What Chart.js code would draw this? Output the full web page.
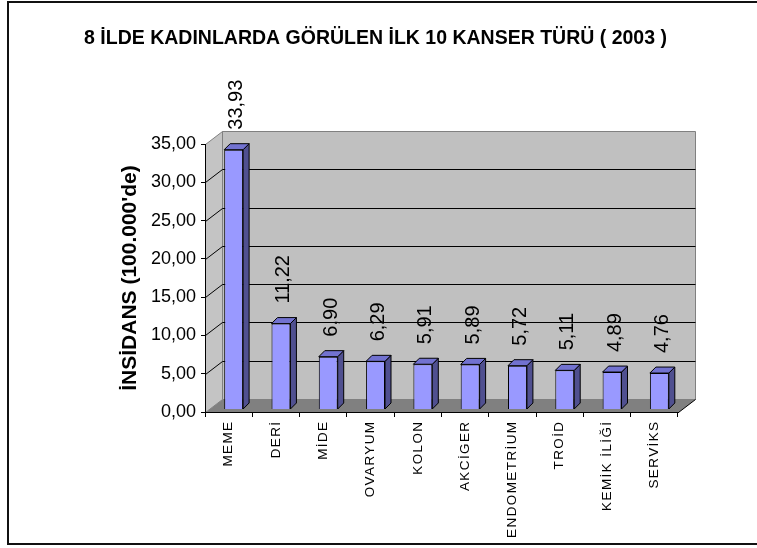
<!DOCTYPE html>
<html>
<head>
<meta charset="utf-8">
<title>8 ilde kadınlarda kanser</title>
<script src="https://cdn.jsdelivr.net/npm/chart.js@4.4.1/dist/chart.umd.min.js"></script>
<style>
  html, body { margin: 0; padding: 0; background: #fff; }
  canvas { display: block; }
</style>
</head>
<body>
<canvas id="cancerChart" width="757" height="548"></canvas>
<script>
var categories = ['MEME', 'DERİ', 'MİDE', 'OVARYUM', 'KOLON', 'AKCİGER', 'ENDOMETRİUM', 'TROİD', 'KEMİK İLİĞİ', 'SERVİKS'];
var incidence = [33.93, 11.22, 6.90, 6.29, 5.91, 5.89, 5.72, 5.11, 4.89, 4.76];
var yMin = 0;
var yMax = 35;
var yStep = 5;
var chartTitle = '8 İLDE KADINLARDA GÖRÜLEN İLK 10 KANSER TÜRÜ ( 2003 )';
var yTitle = "İNSİDANS (100.000'de)";

(function () {
  'use strict';

  var FONT = "'Liberation Sans', Arial, sans-serif";
  var WALL_DX = 17, WALL_DY = -13;  // depth of the 3d box
  var BAR_DX = 5, BAR_DY = -2.5;    // bars stand a bit behind the front plane
  var SIDE_DX = 6, SIDE_DY = -6;    // depth of a bar

  function fmt(v) {
    return Number(v).toFixed(2).replace('.', ',');
  }

  function poly(ctx, pts, fill, stroke) {
    ctx.beginPath();
    ctx.moveTo(pts[0][0], pts[0][1]);
    for (var i = 1; i < pts.length; i++) ctx.lineTo(pts[i][0], pts[i][1]);
    ctx.closePath();
    if (fill) { ctx.fillStyle = fill; ctx.fill(); }
    if (stroke) { ctx.strokeStyle = stroke; ctx.stroke(); }
  }

  function seg(ctx, x1, y1, x2, y2, color) {
    ctx.beginPath();
    ctx.moveTo(x1, y1);
    ctx.lineTo(x2, y2);
    ctx.strokeStyle = color;
    ctx.stroke();
  }

  var walls = {
    id: 'walls',
    beforeDraw: function (chart) {
      var ctx = chart.ctx;
      var a = chart.chartArea;
      var ys = chart.scales.y;
      var l = a.left + 0.5, r = a.right + 0.5, t = a.top + 0.5, b = a.bottom + 0.5;

      ctx.save();
      ctx.lineWidth = 2;
      ctx.strokeStyle = '#111';
      ctx.strokeRect(8, 2, 780, 542);

      ctx.lineWidth = 1;
      // back wall, side wall, floor
      poly(ctx, [[l + WALL_DX, t + WALL_DY], [r + WALL_DX, t + WALL_DY], [r + WALL_DX, b + WALL_DY], [l + WALL_DX, b + WALL_DY]], '#c0c0c0', '#808080');
      poly(ctx, [[l, t], [l + WALL_DX, t + WALL_DY], [l + WALL_DX, b + WALL_DY], [l, b]], '#c4c4c4', '#808080');
      poly(ctx, [[l, b], [l + WALL_DX, b + WALL_DY], [r + WALL_DX, b + WALL_DY], [r, b]], '#808080', null);
      seg(ctx, r, b, r + WALL_DX, b + WALL_DY, '#000');

      // gridlines on the back wall, joined to the front ticks
      ys.ticks.forEach(function (tk) {
        if (tk.value === yMin || tk.value === yMax) return;
        var py = Math.round(ys.getPixelForValue(tk.value)) + 0.5;
        seg(ctx, l, py, l + WALL_DX, py + WALL_DY, '#000');
        seg(ctx, l + WALL_DX, py + WALL_DY, r + WALL_DX, py + WALL_DY, '#000');
      });
      ctx.restore();
    }
  };

  var bars3d = {
    id: 'bars3d',
    beforeDatasetsDraw: function (chart) {
      chart.ctx.save();
      chart.ctx.translate(BAR_DX, BAR_DY);
    },
    afterDatasetsDraw: function (chart) {
      var ctx = chart.ctx;
      var meta = chart.getDatasetMeta(0);
      ctx.lineWidth = 1;
      meta.data.forEach(function (bar) {
        var p = bar.getProps(['x', 'y', 'base', 'width'], true);
        var x1 = p.x - p.width / 2, x2 = p.x + p.width / 2;
        poly(ctx, [[x2, p.y], [x2 + SIDE_DX, p.y + SIDE_DY], [x2 + SIDE_DX, p.base + SIDE_DY], [x2, p.base]], '#505090', '#000');
        poly(ctx, [[x1, p.y], [x1 + SIDE_DX, p.y + SIDE_DY], [x2 + SIDE_DX, p.y + SIDE_DY], [x2, p.y]], '#7272d0', '#000');
      });
      ctx.restore();

      // value labels, turned upright
      ctx.save();
      ctx.fillStyle = '#000';
      ctx.font = '20px ' + FONT;
      ctx.textAlign = 'left';
      ctx.textBaseline = 'middle';
      meta.data.forEach(function (bar, i) {
        ctx.save();
        ctx.translate(bar.x + 8, bar.y + BAR_DY + SIDE_DY - 14);
        ctx.rotate(-Math.PI / 2);
        ctx.fillText(fmt(incidence[i]), 0, 0);
        ctx.restore();
      });
      ctx.restore();
    },
    afterDraw: function (chart) {
      var ctx = chart.ctx;
      var xs = chart.scales.x;
      var a = chart.chartArea;
      ctx.save();
      ctx.fillStyle = '#000';
      ctx.font = '13.5px ' + FONT;
      ctx.letterSpacing = '1.4px';
      ctx.textAlign = 'right';
      ctx.textBaseline = 'middle';
      categories.forEach(function (c, i) {
        ctx.save();
        ctx.translate(xs.getPixelForValue(i), a.bottom + 8.5);
        ctx.rotate(-Math.PI / 2);
        ctx.fillText(c, 0, 0);
        ctx.restore();
      });
      ctx.restore();
    }
  };

  var ctx = document.getElementById('cancerChart').getContext('2d');
  new Chart(ctx, {
    type: 'bar',
    data: {
      labels: categories,
      datasets: [{
        data: incidence,
        backgroundColor: '#9999ff',
        borderColor: '#000',
        borderWidth: 1,
        categoryPercentage: 1,
        barPercentage: 0.4
      }]
    },
    options: {
      responsive: false,
      animation: false,
      layout: { padding: { left: 73, right: 79, top: 0, bottom: 0 } },
      plugins: {
        legend: { display: false },
        tooltip: { enabled: false },
        title: {
          display: true,
          text: chartTitle,
          color: '#000',
          font: { family: FONT, size: 19.5, weight: 'bold' },
          padding: { top: 27, bottom: 93.6 }
        }
      },
      scales: {
        x: {
          grid: { drawOnChartArea: false, offset: true, tickLength: 5, color: '#000' },
          border: { color: '#000' },
          ticks: { display: false },
          afterFit: function (s) { s.height = 136; }
        },
        y: {
          min: yMin,
          max: yMax,
          ticks: {
            stepSize: yStep,
            color: '#000',
            padding: 5,
            font: { family: FONT, size: 18 },
            callback: function (v) { return fmt(v); }
          },
          grid: { drawOnChartArea: false, tickLength: 4, color: '#000' },
          border: { color: '#000' },
          title: {
            display: true,
            text: yTitle,
            color: '#000',
            font: { family: FONT, size: 21, weight: 'bold' },
            padding: { top: 44.4, bottom: 0 }
          },
          afterFit: function (s) { s.width = 132; }
        }
      }
    },
    plugins: [walls, bars3d]
  });
})();
</script>
</body>
</html>
